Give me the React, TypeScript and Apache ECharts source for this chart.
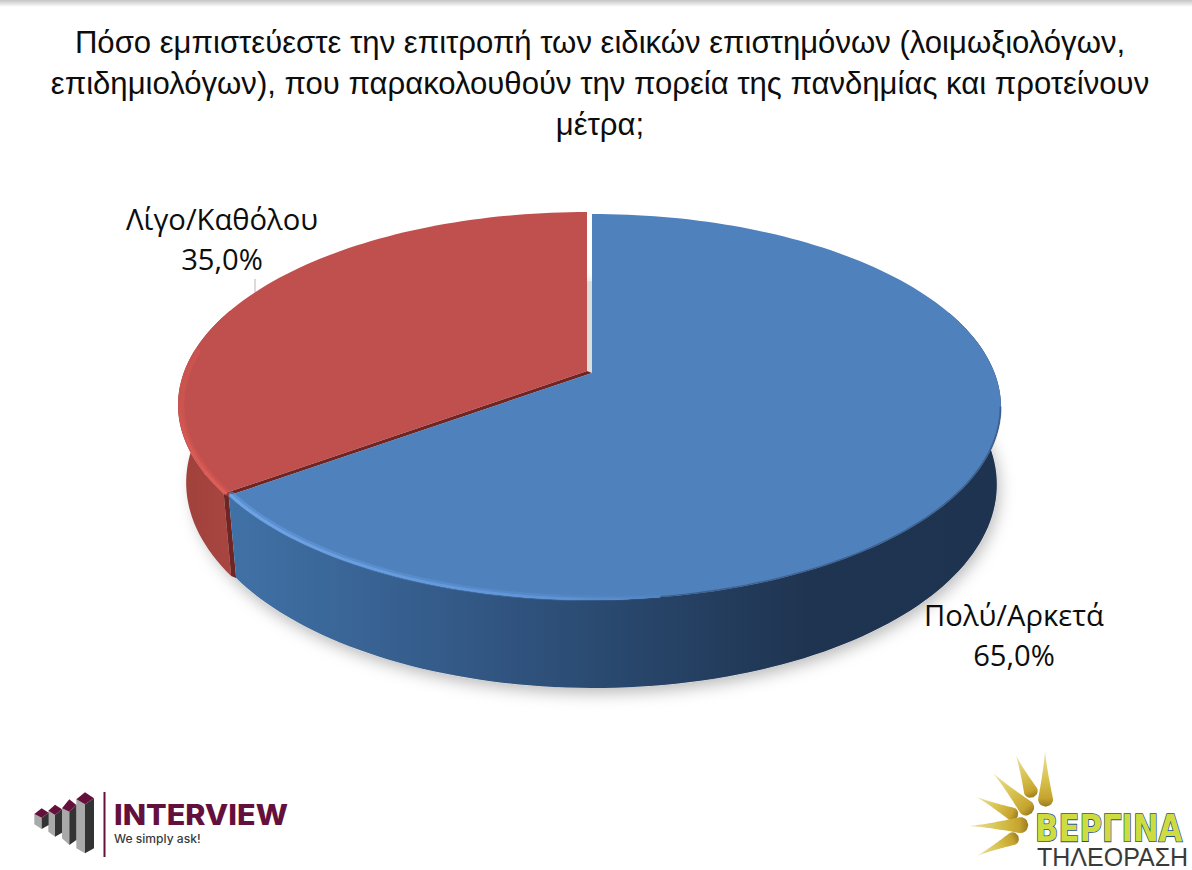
import React, { useEffect, useRef } from "react";
import * as echarts from "echarts";

const titleLines = [
  "Πόσο εμπιστεύεστε την επιτροπή των ειδικών επιστημόνων (λοιμωξιολόγων,",
  "επιδημιολόγων), που παρακολουθούν την πορεία της πανδημίας και προτείνουν",
  "μέτρα;",
];
const categories = ["Πολύ/Αρκετά", "Λίγο/Καθόλου"];
const values = [65, 35];

// projection of the tilted disc
const A = 402.6, B = 187, K = 0.176;
const SIDE_SX = 0.985, SIDE_SY = 1.054, SIDE_D = 75.8, SIDE_DX = 2;
const APEX = [{ x: 592, y: 373 }, { x: 587, y: 371 }];
const TOTAL = values.reduce((a, b) => a + b, 0);
const angles = values.map((_, i) => {
  const s = values.slice(0, i).reduce((a, b) => a + b, 0);
  return [(s / TOTAL) * 360, ((s + values[i]) / TOTAL) * 360];
});

function top(deg: number, ox: number, oy: number, f = 1) {
  const t = (deg * Math.PI) / 180;
  const X = Math.sin(t), Y = -Math.cos(t), w = 1 - K * Y;
  return [ox + (f * A * X) / w, oy + (f * B * Y) / w];
}
function bottom(deg: number, ox: number, oy: number) {
  const t = (deg * Math.PI) / 180;
  const X = Math.sin(t), Y = -Math.cos(t), w = 1 - K * Y;
  return [ox + SIDE_DX + (SIDE_SX * A * X) / w, oy + SIDE_D + (SIDE_SY * B * Y) / w];
}
function arc(fn: (d: number) => number[], a: number, b: number) {
  const n = Math.max(2, Math.ceil(Math.abs(b - a) / 1.5));
  const pts: number[][] = [];
  for (let i = 0; i <= n; i++) pts.push(fn(a + ((b - a) * i) / n));
  return pts;
}
const hgrad = (x0: number, x1: number, stops: [number, string][]) =>
  new echarts.graphic.LinearGradient(
    x0, 0, x1, 0,
    stops.map(([offset, color]) => ({ offset, color })),
    true
  );

const THEME = [
  {
    wall: hgrad(232, 1000, [[0, "#4071a6"], [0.25, "#355d8c"], [0.55, "#274468"], [0.75, "#1f3450"], [1, "#1e3350"]]),
    face: "#4f81bd",
    cut: "#6e2523",
    rim: hgrad(232, 680, [[0, "#6ea4e8"], [0.7, "#5f95d8"], [1, "#4f81bd"]]),
    rimSoft: hgrad(232, 680, [[0, "rgba(110,164,232,0.45)"], [0.7, "rgba(95,149,216,0.35)"], [1, "rgba(79,129,189,0)"]]),
    wallRange: [70, 234],
    rimRange: [172, 234],
  },
  {
    wall: hgrad(180, 240, [[0, "#a0413c"], [1, "#aa4641"]]),
    face: "#c0504d",
    cut: "#6e2523",
    rim: new echarts.graphic.LinearGradient(0, 400, 0, 490, [
      { offset: 0, color: "#c85450" },
      { offset: 0.5, color: "#d95955" },
      { offset: 1, color: "#e05c58" },
    ], true),
    rimSoft: "rgba(222,90,86,0.4)",
    wallRange: [234, 290],
    rimRange: [234, 276],
  },
];

const LABEL_POS = [
  { x: 1014, y: 615 },
  { x: 222, y: 219 },
];
const pct = (v: number) => v.toFixed(1).replace(".", ",") + "%";

function sliceItem(i: number) {
  return (_: any, api: any) => {
    const [a0, a1] = angles[i];
    const o = APEX[i];
    const th = THEME[i];
    const T = (d: number) => top(d, o.x, o.y);
    const Bm = (d: number) => bottom(d, o.x, o.y);
    const [w0, w1] = th.wallRange;
    const children: any[] = [];
    children.push({
      type: "polygon",
      shape: { points: [...arc(T, w0, w1), ...arc(Bm, w1, w0)] },
      style: { fill: th.wall },
    });
    if (i === 1) {
      // the red slice's cut face, seen in the gap beside the blue slice
      const c = angles[1][0];
      const blue = APEX[0];
      children.push({
        type: "polygon",
        shape: { points: [T(c), Bm(c), bottom(c, blue.x, blue.y), top(c, blue.x, blue.y), [blue.x, blue.y], [o.x, o.y]] },
        style: { fill: th.cut },
      });
    }
    children.push({
      type: "polygon",
      shape: { points: [[o.x, o.y], ...arc(T, a0, a1)] },
      style: { fill: th.face },
    });
    if (i === 0) {
      // soft dark transition where the face meets the shaded wall
      children.push({
        type: "polyline",
        shape: { points: arc((d) => top(d, o.x, o.y, 0.999), 100, 172) },
        style: { fill: "none", stroke: "rgba(40,66,104,0.5)", lineWidth: 2 },
      });
    }
    const [r0, r1] = th.rimRange;
    children.push({
      type: "polyline",
      shape: { points: arc((d) => top(d, o.x, o.y, 0.992), r0, r1) },
      style: { fill: "none", stroke: th.rimSoft, lineWidth: 6, lineCap: "round" },
    });
    children.push({
      type: "polyline",
      shape: { points: arc((d) => top(d, o.x, o.y, 0.995), r0, r1) },
      style: { fill: "none", stroke: th.rim, lineWidth: i === 1 ? 3 : 2.5, lineCap: "round" },
    });
    const l = LABEL_POS[i];
    const name = categories[i];
    const value = api.value(0);
    [name, pct(value)].forEach((t, k) =>
      children.push({
        type: "text",
        x: l.x,
        y: l.y + k * 40,
        style: { text: t, fill: "#0d0d0d", font: '29.2px "Open Sans"', align: "center", verticalAlign: "middle" },
      })
    );
    return { type: "group", children };
  };
}

const shadowItem = () => {
  const o = APEX[0];
  return {
    type: "polygon",
    shape: { points: arc((d) => bottom(d, o.x, o.y), 0, 360) },
    style: {
      fill: "#dddddd",
      shadowBlur: 16,
      shadowColor: "rgba(0,0,0,0.28)",
      shadowOffsetY: 5,
      shadowOffsetX: 2,
    },
  };
};

function tear(tx: number, ty: number, bx: number, by: number, W: number) {
  const dx = bx - tx, dy = by - ty, L = Math.hypot(dx, dy);
  const ux = dx / L, uy = dy / L;
  const left: number[][] = [], right: number[][] = [];
  const capStart = 1 - W / L;
  for (let i = 0; i <= 40; i++) {
    const t = i / 40;
    let w = W * Math.pow(t / capStart, 1.3);
    if (t > capStart) {
      const u = (t - capStart) / (1 - capStart);
      w = W * Math.sqrt(Math.max(0, 1 - u * u));
    }
    const px = tx + dx * t, py = ty + dy * t;
    left.push([px - uy * w, py + ux * w]);
    right.push([px + uy * w, py - ux * w]);
  }
  return [...left, ...right.reverse()];
}

const RAYS = [
  [285, 30, 287, 200, 7.5],
  [197, 45, 250, 172, 7],
  [128, 98, 245, 220, 8],
  [78, 170, 203, 230, 6.5],
  [55, 258, 235, 255, 8],
  [80, 348, 205, 288, 6.5],
];

const z = (x: number, y: number, ox: number) => [ox + x / 3, 740 + y / 3];
const poly = (pts: number[][], fill: string) => ({
  type: "polygon",
  shape: { points: pts.map(([x, y]) => z(x, y, 0)) },
  style: { fill },
});

const INTERVIEW_BARS = [
  { l: 229, m: 255, r: 282, t: 157, tl: 178, tr: 175, b: 193, bot: 340, lb: 325, rb: 325 },
  { l: 186, m: 208, r: 229, t: 178, tl: 205, tr: 195, b: 215, bot: 315, lb: 295, rb: 300 },
  { l: 145, m: 165, r: 186, t: 194, tl: 212, tr: 208, b: 225, bot: 290, lb: 275, rb: 278 },
  { l: 103, m: 125, r: 146, t: 205, tl: 222, tr: 218, b: 233, bot: 267, lb: 253, rb: 255 },
];

export default function App() {
  const ref = useRef<HTMLDivElement>(null);
  useEffect(() => {
    const chart = echarts.init(ref.current!, undefined, { renderer: "svg" });
    const graphic: any[] = [
      {
        type: "rect",
        shape: { x: 0, y: 0, width: 1192, height: 7 },
        style: {
          fill: new echarts.graphic.LinearGradient(0, 0, 0, 1, [
            { offset: 0, color: "#c4c4c4" },
            { offset: 1, color: "#ffffff" },
          ]),
        },
      },
      { type: "line", shape: { x1: 255, y1: 279, x2: 255, y2: 292 }, style: { stroke: "#c8c8c8", lineWidth: 1.3 } },
    ];
    INTERVIEW_BARS.forEach((b) => {
      graphic.push(poly([[b.l, b.tl], [b.m, b.b], [b.m, b.bot], [b.l, b.lb]], "#a9a9a9"));
      graphic.push(poly([[b.m, b.b], [b.r, b.tr], [b.r, b.rb], [b.m, b.bot]], "#333333"));
      graphic.push(poly([[b.l, b.tl], [b.m, b.t], [b.r, b.tr], [b.m, b.b]], "#64103c"));
    });
    graphic.push(
      { type: "line", shape: { x1: 104.5, y1: 792, x2: 104.5, y2: 857 }, style: { stroke: "#64103c", lineWidth: 2 } },
      { type: "text", x: 114, y: 829, scaleX: 1.09, style: { text: "INTERVIEW", fill: "#64103c", font: '800 28px Inter', align: "left", verticalAlign: "bottom" } },
      { type: "text", x: 114, y: 845, scaleX: 1.05, style: { text: "We simply ask!", fill: "#3a3a3a", font: '500 11.5px Inter', align: "left", verticalAlign: "bottom" } }
    );
    RAYS.forEach(([tx, ty, bx, by, w]) => {
      const [x0, y0] = z(tx, ty, 950), [x1, y1] = z(bx, by, 950);
      graphic.push({
        type: "polygon",
        shape: { points: tear(x0, y0, x1, y1, w) },
        style: {
          fill: new echarts.graphic.LinearGradient(x0, y0, x1, y1, [
            { offset: 0, color: "#ebe3a8" },
            { offset: 0.5, color: "#d8c350" },
            { offset: 0.85, color: "#c6a42e" },
            { offset: 1, color: "#9a7c22" },
          ], true),
        },
      });
    });
    graphic.push(
      { type: "text", x: 1035, y: 846, scaleX: 0.83, style: { text: "ΒΕΡΓΙΝΑ", fill: "#cfdc40", stroke: "#1e4e8c", lineWidth: 1.6, font: '700 37px "DejaVu Sans"', align: "left", verticalAlign: "bottom" } },
      { type: "text", x: 1037, y: 869, style: { text: "ΤΗΛΕΟΡΑΣΗ", fill: "#3a3a3a", font: '25px "Liberation Sans"', align: "left", verticalAlign: "bottom" } }
    );
    chart.setOption({
      animation: false,
      backgroundColor: "#ffffff",
      title: {
        text: titleLines.join("\n"),
        left: 595,
        top: 17,
        textAlign: "center",
        textStyle: { fontFamily: "Liberation Sans", fontSize: 31.1, fontWeight: "normal", color: "#0d0d0d", lineHeight: 41 },
      },
      graphic,
      series: [
        { type: "custom", coordinateSystem: "none", silent: true, renderItem: shadowItem, data: [0] },
        ...[1, 0].map((i) => ({
          type: "custom",
          name: categories[i],
          coordinateSystem: "none",
          silent: true,
          renderItem: sliceItem(i),
          data: [values[i]],
        })),
      ],
    });
    return () => chart.dispose();
  }, []);
  return <div ref={ref} style={{ position: "fixed", left: 0, top: 0, width: 1192, height: 870 }} />;
}
